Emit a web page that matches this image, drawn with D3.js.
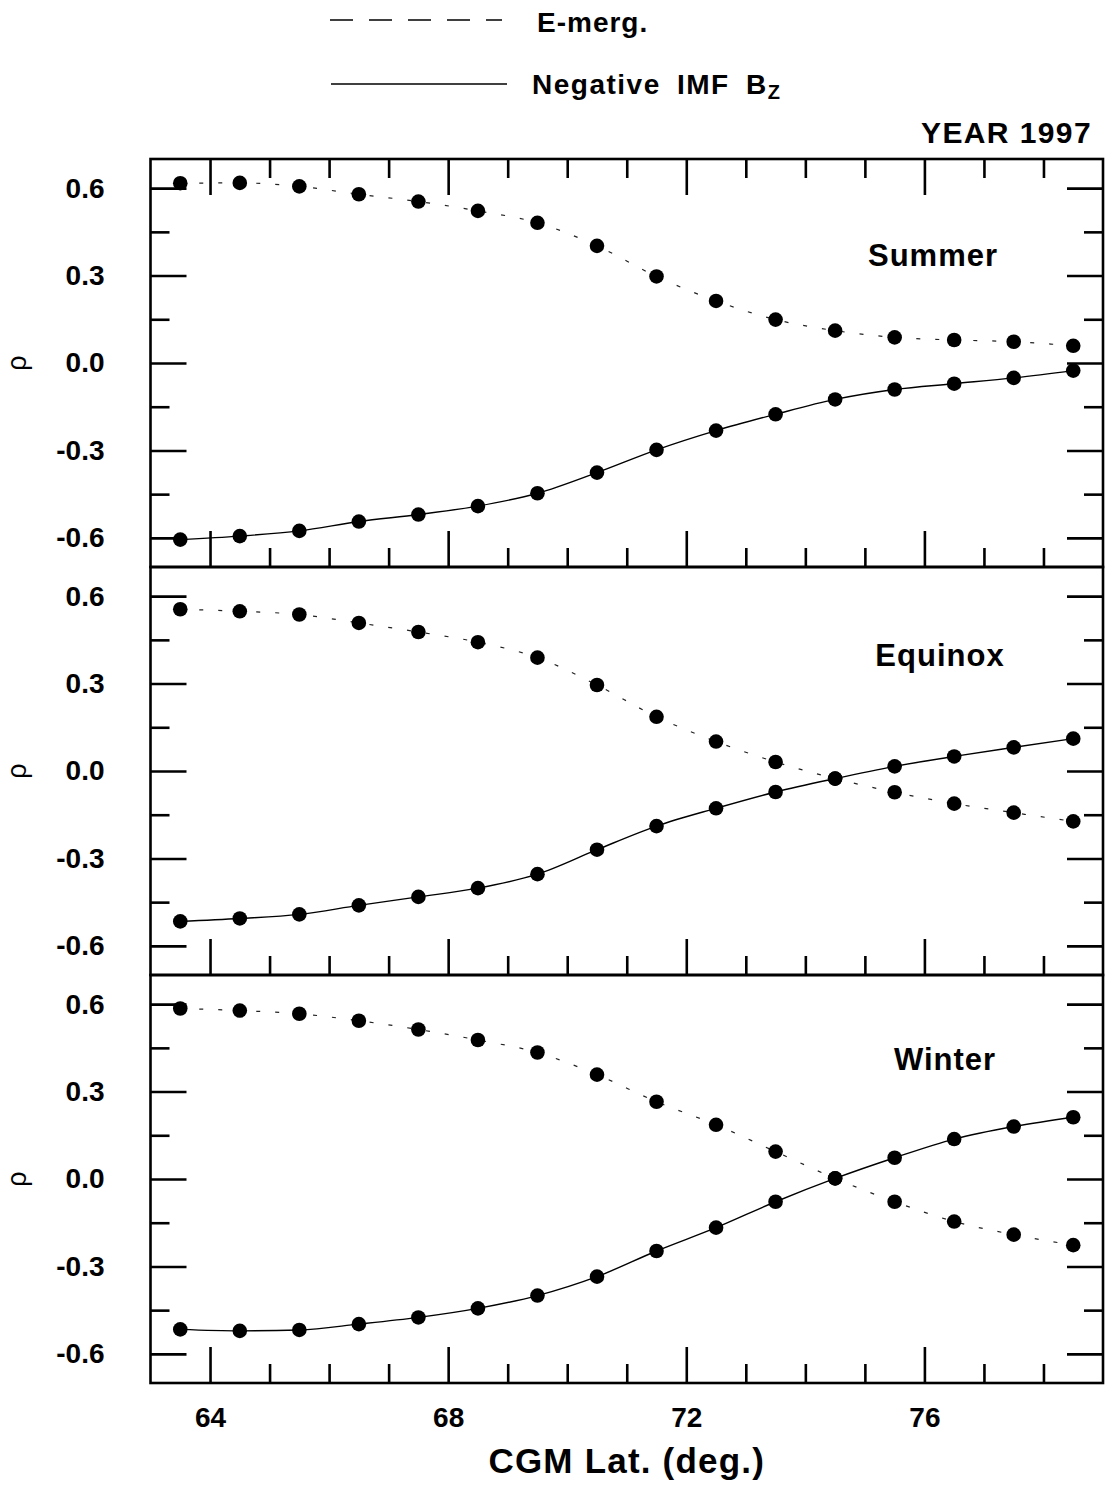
<!DOCTYPE html>
<html>
<head>
<meta charset="utf-8">
<script src="https://cdn.jsdelivr.net/npm/d3@7"></script>
<style>
  body { margin: 0; background: #fff; }
  text { font-family: "Liberation Sans", Arial, sans-serif; font-weight: bold; fill: #000; }
  text.rho { font-weight: normal; }
</style>
</head>
<body>
<svg id="chart" width="1105" height="1488"></svg>
<script>
// CGM latitude of each point
const lat = [63.5, 64.5, 65.5, 66.5, 67.5, 68.5, 69.5, 70.5, 71.5, 72.5, 73.5, 74.5, 75.5, 76.5, 77.5, 78.5];

const summerEmerg  = [0.617, 0.618, 0.606, 0.579, 0.554, 0.522, 0.481, 0.402, 0.297, 0.213, 0.149, 0.111, 0.088, 0.079, 0.073, 0.059];
const summerBz     = [-0.606, -0.594, -0.576, -0.544, -0.520, -0.491, -0.447, -0.376, -0.298, -0.232, -0.176, -0.125, -0.091, -0.071, -0.051, -0.026];
const equinoxEmerg = [0.555, 0.548, 0.537, 0.508, 0.477, 0.442, 0.389, 0.295, 0.186, 0.101, 0.031, -0.026, -0.073, -0.112, -0.143, -0.173];
const equinoxBz    = [-0.516, -0.506, -0.492, -0.461, -0.432, -0.402, -0.354, -0.270, -0.189, -0.128, -0.072, -0.026, 0.016, 0.050, 0.081, 0.111];
const winterEmerg  = [0.585, 0.578, 0.567, 0.543, 0.513, 0.477, 0.434, 0.358, 0.265, 0.186, 0.094, 0.002, -0.078, -0.146, -0.191, -0.227];
const winterBz     = [-0.516, -0.521, -0.518, -0.498, -0.475, -0.444, -0.400, -0.335, -0.247, -0.167, -0.078, 0.002, 0.073, 0.137, 0.180, 0.212];

const seasons = ['Summer', 'Equinox', 'Winter'];
const emergSeries = [summerEmerg, equinoxEmerg, winterEmerg];
const bzSeries = [summerBz, equinoxBz, winterBz];

const xMajor = [64, 68, 72, 76];
const xMinor = [65, 66, 67, 69, 70, 71, 73, 74, 75, 77, 78];
const yMajor = [-0.6, -0.3, 0, 0.3, 0.6];
const yMinor = [-0.45, -0.15, 0.15, 0.45];

// layout
const left = 150.5, right = 1103, top0 = 159, panelH = 408;
const majorLen = 36, minorLen = 19;
const seasonLabelPos = [[933, 266], [940, 666], [945, 1070]];

const svg = d3.select('#chart');
const x = d3.scaleLinear().domain([63, 79]).range([left, right]);

// plain hyphen for negatives, like the original
const fmt = d => d3.format('.1f')(d).replace('\u2212', '-').replace('-0.0', '0.0');

seasons.forEach((name, i) => {
    const top = top0 + i * panelH;
    const y = d3.scaleLinear().domain([-0.7, 0.7]).range([top + panelH, top]);
    const g = svg.append('g');

    // inward ticks, left side with labels
    g.append('g').attr('transform', `translate(${left},0)`)
        .call(d3.axisLeft(y).tickValues(yMajor).tickSize(-majorLen).tickPadding(46).tickFormat(fmt));
    g.append('g').attr('transform', `translate(${left},0)`)
        .call(d3.axisLeft(y).tickValues(yMinor).tickSize(-minorLen).tickFormat(''));
    g.append('g').attr('transform', `translate(${right},0)`)
        .call(d3.axisRight(y).tickValues(yMajor).tickSize(-majorLen).tickFormat(''));
    g.append('g').attr('transform', `translate(${right},0)`)
        .call(d3.axisRight(y).tickValues(yMinor).tickSize(-minorLen).tickFormat(''));

    g.append('g').attr('transform', `translate(0,${top + panelH})`)
        .call(d3.axisBottom(x).tickValues(xMajor).tickSize(-majorLen).tickPadding(24)
            .tickFormat(i === 2 ? d3.format('d') : ''));
    g.append('g').attr('transform', `translate(0,${top + panelH})`)
        .call(d3.axisBottom(x).tickValues(xMinor).tickSize(-minorLen).tickFormat(''));
    if (i === 0) {
        g.append('g').attr('transform', `translate(0,${top})`)
            .call(d3.axisTop(x).tickValues(xMajor).tickSize(-majorLen).tickFormat(''));
        g.append('g').attr('transform', `translate(0,${top})`)
            .call(d3.axisTop(x).tickValues(xMinor).tickSize(-minorLen).tickFormat(''));
    }
    g.selectAll('.domain').remove();
    g.selectAll('.tick line').attr('stroke', '#000').attr('stroke-width', 2.6);
    g.selectAll('.tick text').attr('font-size', 28).attr('fill', '#000');

    // frame
    g.append('rect')
        .attr('x', left).attr('y', top)
        .attr('width', right - left).attr('height', panelH)
        .attr('fill', 'none').attr('stroke', '#000').attr('stroke-width', 2.6);

    const line = d3.line().x((d, k) => x(lat[k])).y(d => y(d)).curve(d3.curveMonotoneX);

    g.append('path').datum(emergSeries[i])
        .attr('d', line).attr('fill', 'none')
        .attr('stroke', '#222').attr('stroke-width', 1.2).attr('stroke-dasharray', '4,15');
    g.append('path').datum(bzSeries[i])
        .attr('d', line).attr('fill', 'none')
        .attr('stroke', '#000').attr('stroke-width', 1.4);

    [emergSeries[i], bzSeries[i]].forEach(series => {
        g.selectAll(null).data(series).enter().append('circle')
            .attr('cx', (d, k) => x(lat[k]))
            .attr('cy', d => y(d))
            .attr('r', 7.3)
            .attr('fill', '#000');
    });

    g.append('text')
        .attr('x', seasonLabelPos[i][0]).attr('y', seasonLabelPos[i][1])
        .attr('text-anchor', 'middle')
        .attr('font-size', 31).attr('letter-spacing', 1)
        .text(name);

    // rho label
    g.append('text').attr('class', 'rho')
        .attr('transform', `translate(26,${y(0)}) rotate(-90)`)
        .attr('text-anchor', 'middle')
        .attr('font-size', 27)
        .text('\u03C1');
});

// x axis title
svg.append('text')
    .attr('x', (left + right) / 2).attr('y', 1473)
    .attr('text-anchor', 'middle')
    .attr('font-size', 35).attr('letter-spacing', 1.2)
    .text('CGM Lat. (deg.)');

// legend
svg.append('line')
    .attr('x1', 330).attr('x2', 502).attr('y1', 20).attr('y2', 20)
    .attr('stroke', '#000').attr('stroke-width', 1.5).attr('stroke-dasharray', '23,16');
svg.append('text')
    .attr('x', 537).attr('y', 32)
    .attr('font-size', 28).attr('letter-spacing', 1)
    .text('E-merg.');
svg.append('line')
    .attr('x1', 331).attr('x2', 507).attr('y1', 84).attr('y2', 84)
    .attr('stroke', '#000').attr('stroke-width', 1.5);
const bzLabel = svg.append('text')
    .attr('x', 532).attr('y', 94)
    .attr('font-size', 28).attr('letter-spacing', 1.5).attr('word-spacing', 7);
bzLabel.append('tspan').text('Negative IMF B');
bzLabel.append('tspan').attr('font-size', 20).attr('dy', 5).text('Z');

svg.append('text')
    .attr('x', 1092).attr('y', 143)
    .attr('text-anchor', 'end')
    .attr('font-size', 30).attr('letter-spacing', 1.4)
    .text('YEAR 1997');
</script>
</body>
</html>
